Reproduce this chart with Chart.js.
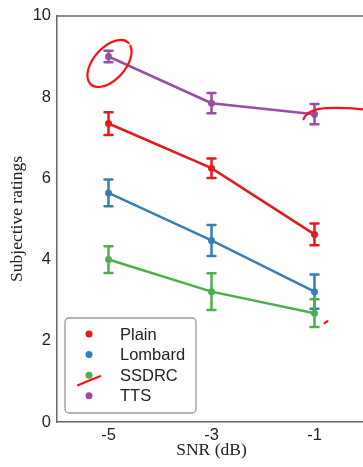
<!DOCTYPE html>
<html>
<head>
<meta charset="utf-8">
<script src="https://cdn.jsdelivr.net/npm/chart.js@4.4.1/dist/chart.umd.min.js"></script>
<style>
    html, body { margin: 0; padding: 0; background: #fff; overflow: hidden; }
    canvas { display: block; }
</style>
</head>
<body>
<canvas id="grafico" width="380" height="467"></canvas>
<script>
// Eixo X (SNR em dB) e marcas exibidas
const snr = [-5, -3, -1];
const marcasSnr = [-5, -3, -1];
const marcasNota = [0, 2, 4, 6, 8, 10];

// Notas médias e erro (meia barra) por condição
const plain = [7.35, 6.25, 4.62];
const plainErro = [0.28, 0.24, 0.27];
const lombard = [5.64, 4.47, 3.21];
const lombardErro = [0.33, 0.38, 0.42];
const ssdrc = [4.00, 3.21, 2.68];
const ssdrcErro = [0.33, 0.45, 0.34];
const tts = [9.00, 7.85, 7.58];
const ttsErro = [0.14, 0.25, 0.25];

const nomes = ['Plain', 'Lombard', 'SSDRC', 'TTS'];
const cores = ['#e41a1c', '#377eb8', '#4daf4a', '#984ea3'];

function serie(i, valores, erros) {
    return {
        label: nomes[i],
        data: snr.map((x, j) => ({ x: x, y: valores[j] })),
        erros: erros,
        borderColor: cores[i],
        backgroundColor: cores[i],
        borderWidth: 2.5,
        pointRadius: 3.5,
        pointHoverRadius: 3.5,
        pointBorderWidth: 0,
        tension: 0
    };
}

// Barras de erro com tampinhas
const barrasErro = {
    id: 'barrasErro',
    afterDatasetsDraw(chart) {
        const { ctx, scales: { x, y } } = chart;
        ctx.save();
        ctx.lineWidth = 2.5;
        ctx.lineCap = 'round';
        chart.data.datasets.forEach(ds => {
            ctx.strokeStyle = ds.borderColor;
            ds.data.forEach((p, j) => {
                const px = x.getPixelForValue(p.x);
                const topo = y.getPixelForValue(p.y + ds.erros[j]);
                const base = y.getPixelForValue(p.y - ds.erros[j]);
                ctx.beginPath();
                ctx.moveTo(px, topo); ctx.lineTo(px, base);
                ctx.moveTo(px - 4, topo); ctx.lineTo(px + 4, topo);
                ctx.moveTo(px - 4, base); ctx.lineTo(px + 4, base);
                ctx.stroke();
            });
        });
        ctx.restore();
    }
};

// Linha superior da moldura
const moldura = {
    id: 'moldura',
    afterDraw(chart) {
        const { ctx, chartArea: a } = chart;
        ctx.save();
        ctx.strokeStyle = '#666';
        ctx.lineWidth = 1.5;
        ctx.beginPath();
        ctx.moveTo(a.left, a.top);
        ctx.lineTo(a.right, a.top);
        ctx.stroke();
        ctx.restore();
    }
};

// Legenda dentro da área do gráfico, com caixa arredondada
const legenda = {
    id: 'legenda',
    afterDraw(chart) {
        const { ctx, chartArea: a } = chart;
        const x0 = a.left + 8, y0 = 318, larg = 131, alt = 95;
        ctx.save();
        ctx.fillStyle = 'rgba(255,255,255,0.85)';
        ctx.strokeStyle = '#999';
        ctx.lineWidth = 1.3;
        ctx.beginPath();
        ctx.roundRect(x0, y0, larg, alt, 4);
        ctx.fill();
        ctx.stroke();
        ctx.font = '16.5px "Liberation Sans", Arial, sans-serif';
        ctx.textBaseline = 'middle';
        ctx.textAlign = 'left';
        chart.data.datasets.forEach((ds, i) => {
            const ly = y0 + 16 + i * 20.6;
            ctx.fillStyle = ds.borderColor;
            ctx.beginPath();
            ctx.arc(x0 + 24, ly, 3.5, 0, Math.PI * 2);
            ctx.fill();
            ctx.fillStyle = '#222';
            ctx.fillText(ds.label, x0 + 55, ly + 1);
        });
        ctx.restore();
    }
};

// Anotações à mão em vermelho
const anotacoes = {
    id: 'anotacoes',
    afterDraw(chart) {
        const { ctx, scales: { x, y } } = chart;
        ctx.save();
        ctx.strokeStyle = '#ff1010';
        ctx.lineWidth = 2.2;
        ctx.lineCap = 'round';

        // círculo em volta do TTS a -5 dB
        const cx = x.getPixelForValue(snr[0]) + 1;
        const cy = y.getPixelForValue(tts[0]) + 7;
        ctx.beginPath();
        ctx.ellipse(cx, cy, 28, 16, -0.85, 0.25, Math.PI * 2 + 0.05);
        ctx.stroke();

        // traço sobre o TTS a -1 dB
        const tx = x.getPixelForValue(snr[2]);
        const ty = y.getPixelForValue(tts[2]);
        ctx.beginPath();
        ctx.moveTo(tx - 11, ty + 5);
        ctx.quadraticCurveTo(tx - 7, ty - 5, tx + 12, ty - 6);
        ctx.quadraticCurveTo(tx + 32, ty - 7, tx + 55, ty - 4);
        ctx.stroke();

        // pontinho ao lado do SSDRC a -1 dB
        const sx = x.getPixelForValue(snr[2]);
        const sy = y.getPixelForValue(ssdrc[2]);
        ctx.beginPath();
        ctx.moveTo(sx + 10, sy + 10);
        ctx.lineTo(sx + 13, sy + 8);
        ctx.stroke();

        // risco na legenda do SSDRC
        const lx = chart.chartArea.left + 32;
        const ly = 318 + 16 + 2 * 20.6;
        ctx.beginPath();
        ctx.moveTo(lx - 11, ly + 10);
        ctx.bezierCurveTo(lx - 4, ly + 7, lx + 3, ly + 4, lx + 11, ly + 1);
        ctx.stroke();
        ctx.restore();
    }
};

const fonteTick = { family: '"Liberation Sans", Arial, sans-serif', size: 16.5 };
const fonteTitulo = { family: '"Liberation Serif", "Times New Roman", serif', size: 17.5 };

new Chart(document.getElementById('grafico'), {
    type: 'line',
    data: {
        datasets: [
            serie(0, plain, plainErro),
            serie(1, lombard, lombardErro),
            serie(2, ssdrc, ssdrcErro),
            serie(3, tts, ttsErro)
        ]
    },
    options: {
        responsive: false,
        devicePixelRatio: 1,
        animation: false,
        layout: { padding: { top: 15, right: 14, left: 0, bottom: 0 } },
        plugins: {
            legend: { display: false },
            tooltip: { enabled: false }
        },
        scales: {
            x: {
                type: 'linear',
                min: -6,
                max: 0,
                grid: { display: false, drawTicks: false },
                border: { color: '#666', width: 1.5 },
                afterBuildTicks: s => { s.ticks = marcasSnr.map(v => ({ value: v })); },
                afterFit: s => { s.height = 45; },
                ticks: { font: fonteTick, color: '#222', padding: 4 },
                title: { display: true, text: 'SNR (dB)', font: fonteTitulo, color: '#222', padding: { top: 0, bottom: 6 } }
            },
            y: {
                min: 0,
                max: 10,
                grid: { display: false, drawTicks: false },
                border: { color: '#666', width: 1.5 },
                afterBuildTicks: s => { s.ticks = marcasNota.map(v => ({ value: v })); },
                afterFit: s => { s.width = 57; },
                ticks: { font: fonteTick, color: '#222', padding: 6 },
                title: { display: true, text: 'Subjective ratings', font: fonteTitulo, color: '#222', padding: { top: 7, bottom: 0 } }
            }
        }
    },
    plugins: [barrasErro, moldura, legenda, anotacoes]
});
</script>
</body>
</html>
